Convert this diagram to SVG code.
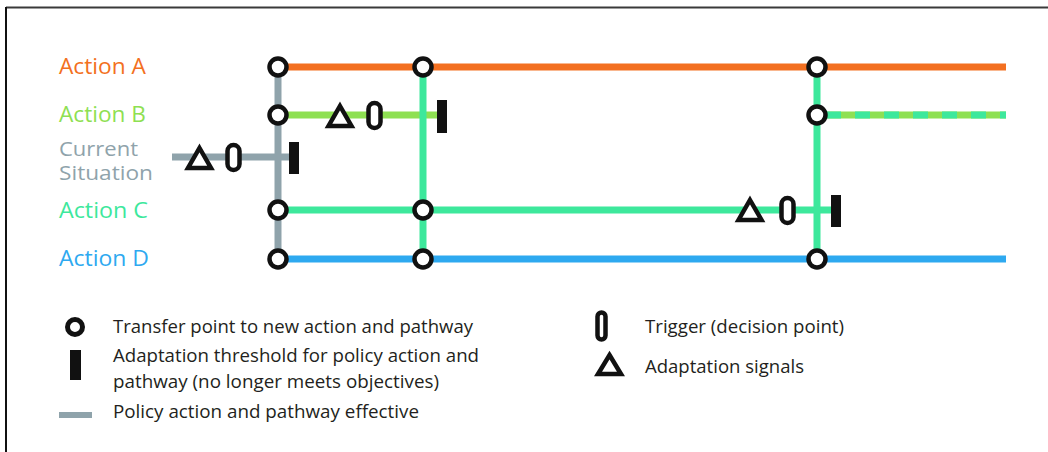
<svg xmlns="http://www.w3.org/2000/svg" width="1048" height="452" viewBox="0 0 1048 452">
<style>
.lbl{font-family:"Open Sans","Liberation Sans",sans-serif;font-size:21px}
.leg{font-family:"Open Sans","Liberation Sans",sans-serif;font-size:18.5px;fill:#231f20}
.ln{fill:none;stroke-width:7}
.tp{fill:#fff;stroke:#111;stroke-width:4.5}
.trig{fill:#fff;stroke:#111;stroke-width:4.5}
.tri{fill:#fff;stroke:#111;stroke-width:4.5;stroke-linejoin:miter}
.bar{fill:#111}
</style>
<rect width="1048" height="452" fill="#fff"/>
<g id="frame">
<line x1="6" y1="7.5" x2="1048" y2="7.5" stroke="#3a3a3a" stroke-width="2"/>
<line x1="6" y1="7" x2="6" y2="452" stroke="#111" stroke-width="2"/>
</g>
<g id="labels">
<text class="lbl" x="59" y="74" fill="#f37021" textLength="87" lengthAdjust="spacingAndGlyphs">Action A</text>
<text class="lbl" x="59" y="122" fill="#8ee052" textLength="87" lengthAdjust="spacingAndGlyphs">Action B</text>
<text class="lbl" x="59" y="156" fill="#8fa3ab" style="font-size:19.5px" textLength="79" lengthAdjust="spacingAndGlyphs">Current</text>
<text class="lbl" x="59" y="180" fill="#8fa3ab" style="font-size:19.5px" textLength="94" lengthAdjust="spacingAndGlyphs">Situation</text>
<text class="lbl" x="59" y="218" fill="#3de89c" textLength="89" lengthAdjust="spacingAndGlyphs">Action C</text>
<text class="lbl" x="59" y="266" fill="#2ea9f0" textLength="90" lengthAdjust="spacingAndGlyphs">Action D</text>
</g>
<g id="connectors">
<line class="ln" x1="278" y1="67" x2="1006" y2="67" stroke="#f37021"/>
<line class="ln" x1="278" y1="115" x2="440" y2="115" stroke="#8ee052"/>
<line class="ln" x1="826" y1="115" x2="1006" y2="115" stroke="#8ee052"/>
<line class="ln" x1="826" y1="115" x2="1006" y2="115" stroke="#3de89c" stroke-dasharray="15 14"/>
<line class="ln" x1="278" y1="210" x2="835" y2="210" stroke="#3de89c"/>
<line class="ln" x1="278" y1="259" x2="1006" y2="259" stroke="#2ea9f0"/>
<line class="ln" x1="172" y1="157" x2="294" y2="157" stroke="#8fa3ab"/>
<line class="ln" x1="278" y1="67" x2="278" y2="259" stroke="#8fa3ab"/>
<line class="ln" x1="423" y1="67" x2="423" y2="259" stroke="#3de89c"/>
<line class="ln" x1="817" y1="67" x2="817" y2="259" stroke="#3de89c"/>
</g>
<g id="current">
<path class="tri" d="M199.5 148 L211 168 L188 168 Z"/>
<rect class="trig" x="227.5" y="145" width="12" height="25" rx="6"/>
<rect class="bar" x="289" y="142" width="10" height="32"/>
</g>
<g id="actionB">
<path class="tri" d="M340 106 L351.5 126 L328.5 126 Z"/>
<rect class="trig" x="368.5" y="103" width="12" height="25" rx="6"/>
<rect class="bar" x="437" y="100" width="10" height="33"/>
</g>
<g id="actionC">
<path class="tri" d="M750 200 L761.5 220 L738.5 220 Z"/>
<rect class="trig" x="781.5" y="198" width="12" height="25" rx="6"/>
<rect class="bar" x="831" y="195" width="10" height="32"/>
</g>
<g id="transfers">
<circle class="tp" cx="278" cy="67" r="8.5"/>
<circle class="tp" cx="278" cy="115" r="8.5"/>
<circle class="tp" cx="278" cy="210" r="8.5"/>
<circle class="tp" cx="278" cy="259" r="8.5"/>
<circle class="tp" cx="423" cy="67" r="8.5"/>
<circle class="tp" cx="423" cy="210" r="8.5"/>
<circle class="tp" cx="423" cy="259" r="8.5"/>
<circle class="tp" cx="817" cy="67" r="8.5"/>
<circle class="tp" cx="817" cy="115" r="8.5"/>
<circle class="tp" cx="817" cy="259" r="8.5"/>
</g>
<g id="legend">
<circle cx="75" cy="327" r="7.5" fill="#fff" stroke="#111" stroke-width="5"/>
<text class="leg" x="113" y="333" textLength="360" lengthAdjust="spacingAndGlyphs">Transfer point to new action and pathway</text>
<rect class="bar" x="70" y="350" width="11" height="30"/>
<text class="leg" x="113" y="362" textLength="366" lengthAdjust="spacingAndGlyphs">Adaptation threshold for policy action and</text>
<text class="leg" x="113" y="388" textLength="326" lengthAdjust="spacingAndGlyphs">pathway (no longer meets objectives)</text>
<line x1="59" y1="415" x2="92" y2="415" stroke="#8fa3ab" stroke-width="6"/>
<text class="leg" x="113" y="418" textLength="306" lengthAdjust="spacingAndGlyphs">Policy action and pathway effective</text>
<rect x="597.5" y="312.5" width="8" height="27" rx="4" fill="#fff" stroke="#111" stroke-width="4.5"/>
<text class="leg" x="645" y="333" textLength="199" lengthAdjust="spacingAndGlyphs">Trigger (decision point)</text>
<path class="tri" d="M609.5 355 L621 374 L598 374 Z"/>
<text class="leg" x="645" y="373" textLength="159" lengthAdjust="spacingAndGlyphs">Adaptation signals</text>
</g>
</svg>
